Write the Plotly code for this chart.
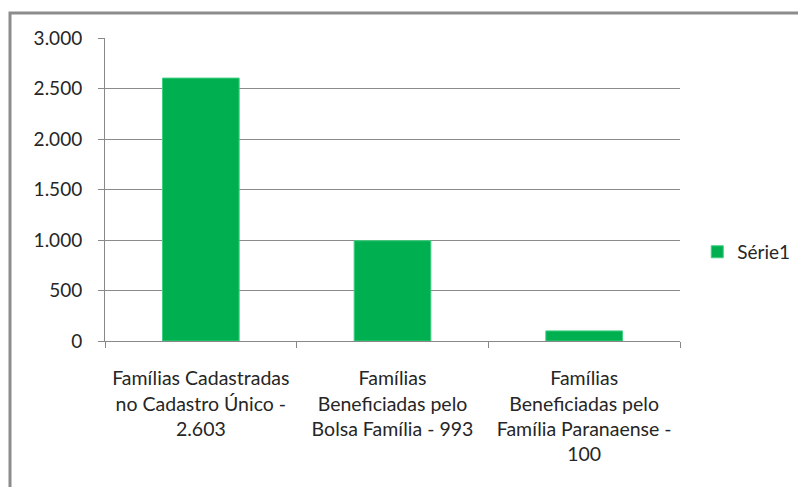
import plotly.graph_objs as go

# Dados do gráfico
categorias = [
    "Famílias Cadastradas<br>no Cadastro Único -<br>2.603",
    "Famílias<br>Beneficiadas pelo<br>Bolsa Família - 993",
    "Famílias<br>Beneficiadas pelo<br>Família Paranaense -<br>100",
]
valores = [2603, 993, 100]
serie_nome = "Série1"
y_ticks = [0, 500, 1000, 1500, 2000, 2500, 3000]

fonte = dict(family="Lato, Open Sans, sans-serif", size=19, color="#262626")
fonte_x = dict(family="Lato, Open Sans, sans-serif", size=19.5, color="#262626")

fig = go.Figure()

fig.add_trace(
    go.Bar(
        x=categorias,
        y=valores,
        name=serie_nome,
        marker=dict(color="#00B050", line=dict(color="#3fcf80", width=1)),
        width=0.4,
        showlegend=True,
    )
)

# Moldura cinza do gráfico
fig.add_shape(
    type="rect", xref="paper", yref="paper",
    x0=-95 / 575, x1=700 / 575, y0=-200 / 303, y1=1 + 25 / 303,
    line=dict(color="#8c8c8c", width=3), fillcolor="rgba(0,0,0,0)",
)

fig.update_layout(
    width=798,
    height=487,
    autosize=False,
    margin=dict(l=105, r=118, t=38, b=146, autoexpand=False),
    paper_bgcolor="white",
    plot_bgcolor="white",
    separators=",.",
    font=fonte,
    bargap=0.6,
    legend=dict(
        x=1.03, y=0.294, xanchor="left", yanchor="middle",
        font=fonte,
        bgcolor="rgba(0,0,0,0)",
        itemwidth=30,
    ),
    xaxis=dict(
        showgrid=False,
        automargin=False,
        tickangle=0,
        showline=True, linecolor="#888888", linewidth=1,
        ticks="outside", tickson="boundaries", ticklen=6, tickcolor="#888888",
        ticklabelstandoff=20,
        tickfont=fonte_x,
    ),
    yaxis=dict(
        range=[0, 3000],
        automargin=False,
        tickvals=y_ticks,
        tickformat=",d",
        showgrid=True, gridcolor="#8a8a8a", gridwidth=1,
        showline=True, linecolor="#888888", linewidth=1,
        ticks="outside", ticklen=6, tickcolor="#888888",
        ticklabelstandoff=12,
        tickfont=fonte,
        zeroline=False,
    ),
)

fig.write_html(
    "out.html",
    config={"responsive": False, "displayModeBar": False},
    default_width="798px",
    default_height="487px",
    post_script="document.body.style.margin='0';"
                "document.body.style.overflow='hidden';"
                "Plotly.relayout(document.getElementById('{plot_id}'), {width: 798, height: 487});",
)
